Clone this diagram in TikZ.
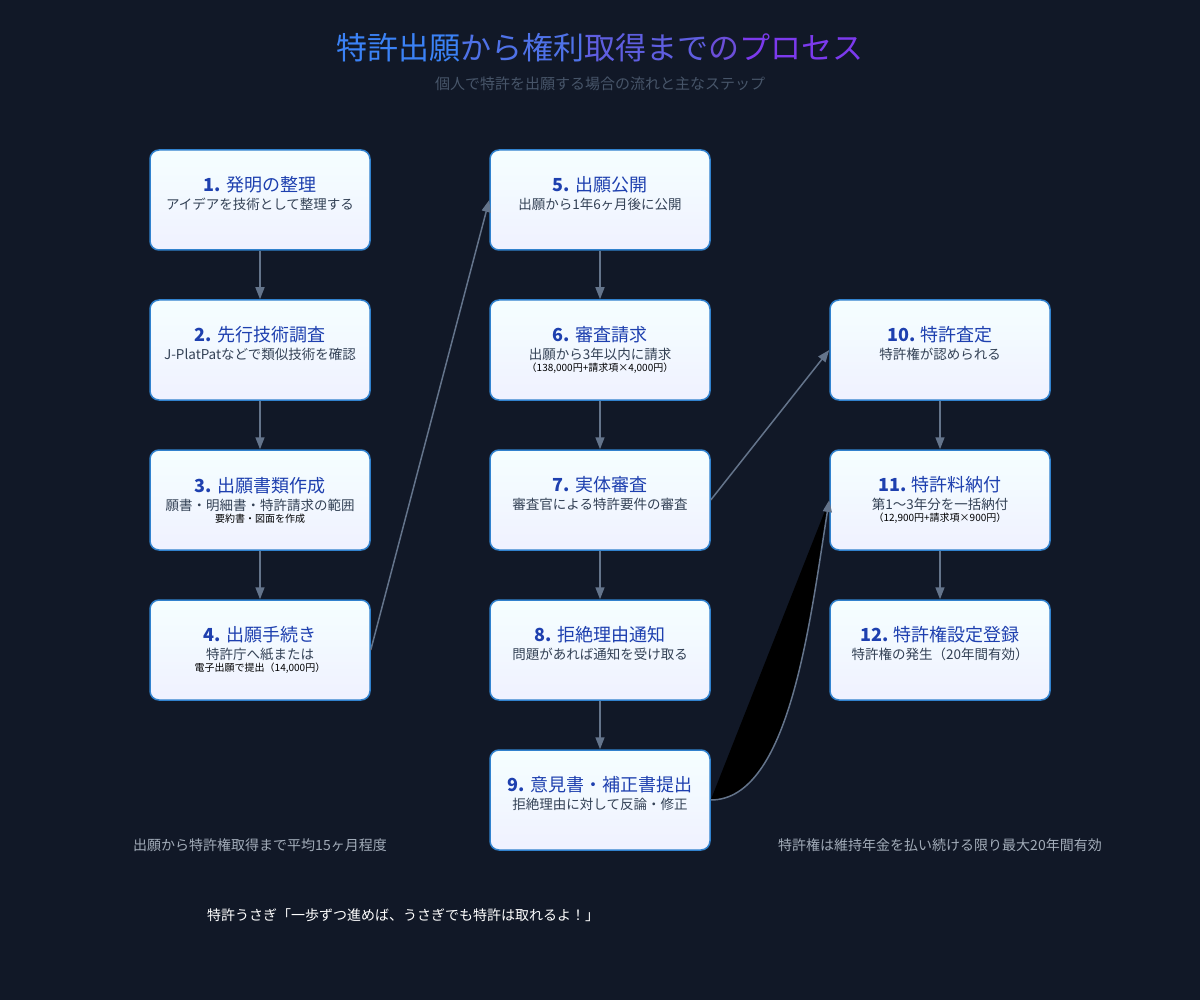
\documentclass[tikz,border=0pt]{standalone}
\usepackage{fontspec}
\setmainfont{Noto Sans CJK JP}
\usetikzlibrary{arrows.meta}
\definecolor{bg}{HTML}{111827}
\definecolor{hd}{HTML}{1E40AF}
\definecolor{tx}{HTML}{334155}
\definecolor{ln}{HTML}{64748B}
\definecolor{bd}{HTML}{3182CE}
\tikzset{
 stepbox/.style={draw=bd,line width=1.5pt,rounded corners=9pt,minimum width=220pt,minimum height=100pt,top color=blue!2!cyan!4,bottom color=cyan!10!blue!6,align=center,inner sep=0pt},
 conn/.style={ln,line width=1.5pt,-{Triangle[length=12pt,width=9pt]}},
 note/.style={text=ln!60!white,font=\fontsize{14}{16}\selectfont}
}
\newcommand{\bx}[4]{\node[stepbox] (#1) at #2 {\fontsize{18}{22}\selectfont\color{hd}#3\\[4pt]\fontsize{13.5}{20}\selectfont\color{tx}#4};}
\begin{document}
\begin{tikzpicture}[x=1pt,y=-1pt]
\fill[bg] (0,0) rectangle (1200,1000);
\useasboundingbox (0,0) rectangle (1200,1000);
\node (title) at (600,48) {\fontsize{31}{36}\selectfont\color[HTML]{3B82F6}特許出願\color[HTML]{4F72E8}から権利\color[HTML]{5F5EE0}取得まで\color[HTML]{6B4ED8}の\color[HTML]{7C3AED}プロセス};
\node (sub) at (600,84) {\fontsize{15}{18}\selectfont\color[HTML]{475569}個人で特許を出願する場合の流れと主なステップ};
\bx{n1}{(260,200)}{\textbf{1.} 発明の整理}{アイデアを技術として整理する\\[2pt]\phantom{x}}
\bx{n2}{(260,350)}{\textbf{2.} 先行技術調査}{J-PlatPatなどで類似技術を確認\\[2pt]\phantom{x}}
\bx{n3}{(260,500)}{\textbf{3.} 出願書類作成}{願書・明細書・特許請求の範囲\\要約書・図面を作成}
\bx{n4}{(260,650)}{\textbf{4.} 出願手続き}{特許庁へ紙または\\電子出願で提出（14,000円）}
\bx{n5}{(600,200)}{\textbf{5.} 出願公開}{出願から1年6ヶ月後に公開\\[2pt]\phantom{x}}
\bx{n6}{(600,350)}{\textbf{6.} 審査請求}{出願から3年以内に請求\\（138,000円+請求項×4,000円）}
\bx{n7}{(600,500)}{\textbf{7.} 実体審査}{審査官による特許要件の審査\\[2pt]\phantom{x}}
\bx{n8}{(600,650)}{\textbf{8.} 拒絶理由通知}{問題があれば通知を受け取る\\[2pt]\phantom{x}}
\bx{n9}{(600,800)}{\textbf{9.} 意見書・補正書提出}{拒絶理由に対して反論・修正\\[2pt]\phantom{x}}
\bx{n10}{(940,350)}{\textbf{10.} 特許査定}{特許権が認められる\\[2pt]\phantom{x}}
\bx{n11}{(940,500)}{\textbf{11.} 特許料納付}{第1〜3年分を一括納付\\（12,900円+請求項×900円）}
\bx{n12}{(940,650)}{\textbf{12.} 特許権設定登録}{特許権の発生（20年間有効）\\[2pt]\phantom{x}}
\foreach \a/\b in {n1/n2,n2/n3,n3/n4,n5/n6,n6/n7,n7/n8,n8/n9,n10/n11,n11/n12}
  \draw[conn] (\a) -- (\b);
\draw[conn] (n4.east) -- (n5.west);
\draw[conn] (n7.east) -- (n10.west);
\fill[black] (n9.east) .. controls (790,800) and (810,620) .. (n11.west) -- cycle;
\draw[conn] (n9.east) .. controls (790,800) and (810,620) .. (n11.west);
\node[note] (f1) at (260,845) {出願から特許権取得まで平均15ヶ月程度};
\node[note] (f2) at (940,845) {特許権は維持年金を払い続ける限り最大20年間有効};
\node[text=white,font=\fontsize{14}{16}\selectfont] (f3) at (403,915) {特許うさぎ「一歩ずつ進めば、うさぎでも特許は取れるよ！」};
\end{tikzpicture}
\end{document}
